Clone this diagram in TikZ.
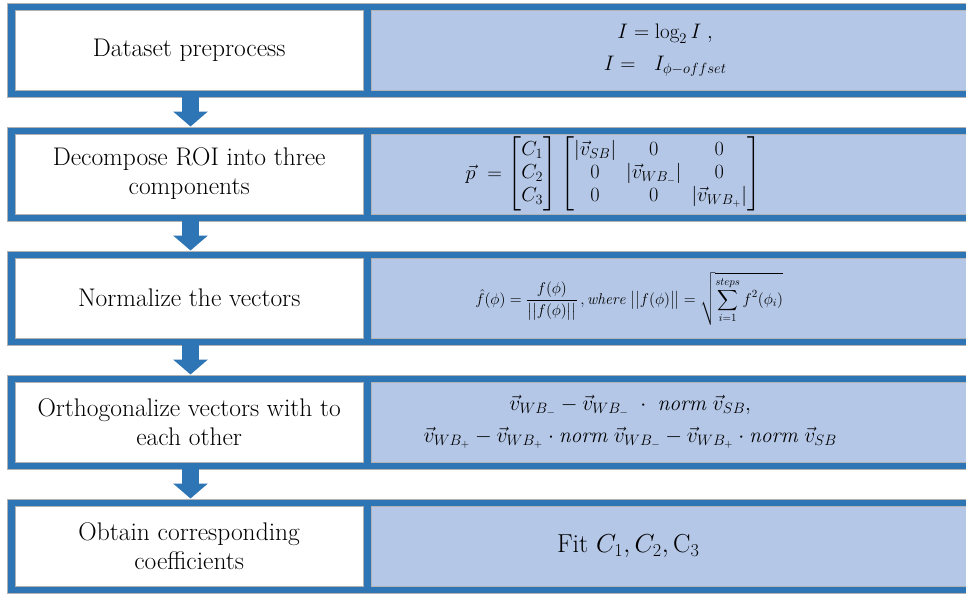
\documentclass[tikz,border=0pt]{standalone}
\usepackage{fix-cm}
\usepackage{amsmath}
\usepackage{fontspec}
\usetikzlibrary{arrows.meta}
\definecolor{frameblue}{HTML}{2E75B6}
\definecolor{panelblue}{HTML}{B4C7E7}
\begin{document}
\begin{tikzpicture}[x=1pt,y=-1pt,
  frame/.style={draw=black!30, line width=0.4pt, fill=frameblue, rectangle, anchor=north west,
    minimum width=980pt, minimum height=94.5pt, inner sep=0pt},
  leftbox/.style={draw=black!30, line width=0.4pt, fill=white, rectangle, anchor=north west,
    minimum width=348pt, minimum height=79.5pt, inner sep=0pt, align=center,
    font=\fontsize{25.5}{29}\selectfont},
  rightbox/.style={draw=black!30, line width=0.4pt, fill=panelblue, rectangle, anchor=north west,
    minimum width=596pt, minimum height=79.5pt, inner sep=0pt},
  formula/.style={inner sep=0pt, align=center},
  blockarrow/.style={draw=frameblue, line width=17pt, -{Triangle[width=34pt,length=15pt]}}
]
\useasboundingbox (0,0) rectangle (966,595);
\clip (0,0) rectangle (966,595);
\coordinate (ax) at (190.5,0);

% row 1
\node[frame] (f1) at (7,2.5) {};
\node[leftbox] (l1) at (15,10) {Dataset preprocess};
\node[rightbox] (r1) at (371,10) {};
\node[formula, font=\fontsize{21}{32}\selectfont] (t1) at ([xshift=-4pt]r1.center)
  {$I=\log_2 I\;,$\\ $I=\ \ I_{\phi-offset}$};

% row 2
\node[frame] (f2) at (7,126.5) {};
\node[leftbox] (l2) at (15,134) {Decompose ROI into three\\components};
\node[rightbox] (r2) at (371,134) {};
\node[formula, font=\fontsize{20.3}{23}\selectfont] (t2) at ([xshift=-56pt]r2.center)
  {$\vec{p}\ =\begin{bmatrix}C_1\\C_2\\C_3\end{bmatrix}\begin{bmatrix}|\vec{v}_{SB}| & 0 & 0\\ 0 & |\vec{v}_{WB_-}| & 0\\ 0 & 0 & |\vec{v}_{WB_+}|\end{bmatrix}$};

% row 3
\node[frame] (f3) at (7,250.5) {};
\node[leftbox] (l3) at (15,258) {Normalize the vectors};
\node[rightbox] (r3) at (371,258) {};
\node[formula, font=\fontsize{15.6}{19}\selectfont] (t3) at ([xshift=-40pt,yshift=-1pt]r3.center)
  {$\hat{f}(\phi)=\dfrac{f(\phi)}{\bigl|\bigl|f(\phi)\bigr|\bigr|}\,,\mathit{where}\ \bigl|\bigl|f(\phi)\bigr|\bigr|=\sqrt{\displaystyle\sum_{i=1}^{steps} f^2(\phi_i)}$};

% row 4
\node[frame] (f4) at (7,374.5) {};
\node[leftbox] (l4) at (15,382) {Orthogonalize vectors with to\\each other};
\node[rightbox] (r4) at (371,382) {};
\node[formula, font=\fontsize{21.5}{32}\selectfont] (t4) at ([xshift=-39pt]r4.center)
  {$\vec{v}_{WB_-}-\vec{v}_{WB_-}\ \cdot\ \mathit{norm}\ \vec{v}_{SB},$\\
   $\vec{v}_{WB_+}-\vec{v}_{WB_+}\cdot\mathit{norm}\ \vec{v}_{WB_-}-\vec{v}_{WB_+}\cdot\mathit{norm}\ \vec{v}_{SB}$};

% row 5
\node[frame] (f5) at (7,498.5) {};
\node[leftbox] (l5) at (15,506) {Obtain corresponding\\coefficients};
\node[rightbox] (r5) at (371,506) {};
\node[formula, font=\fontsize{26}{30}\selectfont] (t5) at ([xshift=-41pt]r5.center)
  {Fit $C_1, C_2, \mathrm{C}_3$};

% arrows
\draw[blockarrow] (f1.south -| ax) -- (f2.north -| ax);
\draw[blockarrow] (f2.south -| ax) -- (f3.north -| ax);
\draw[blockarrow] (f3.south -| ax) -- (f4.north -| ax);
\draw[blockarrow] (f4.south -| ax) -- (f5.north -| ax);
\end{tikzpicture}
\end{document}
